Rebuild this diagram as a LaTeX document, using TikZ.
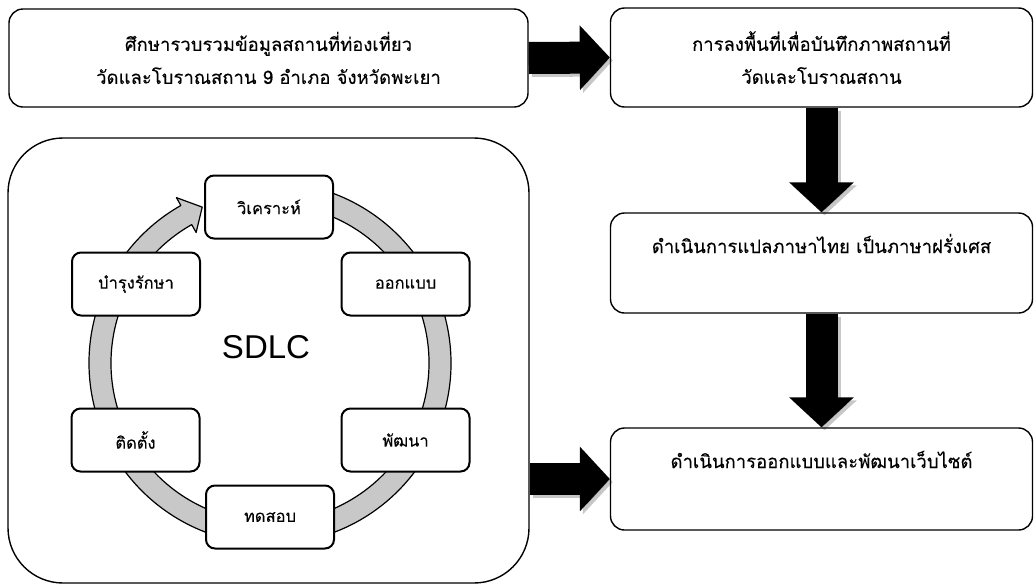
\documentclass[tikz,border=0pt]{standalone}
\usepackage{fontspec}
\setmainfont[Script=Thai, FakeBold=0.2]{Loma}
\newfontfamily\latinsans{Liberation Sans}
\usetikzlibrary{arrows.meta,calc}
\definecolor{ringgray}{RGB}{200,200,200}

\begin{document}
\begin{tikzpicture}[x=1pt,y=1pt,
  stepbox/.style={draw, line width=1.4pt, rounded corners=14pt, fill=white,
    minimum width=422pt, font=\fontsize{18.5}{33}\selectfont},
  phasebox/.style={draw, line width=2pt, rounded corners=9pt, fill=white,
    minimum width=128pt, minimum height=63pt, font=\fontsize{16.5}{20}\selectfont},
  blockarrow/.style={line width=32pt, -{Triangle[length=30pt,width=63pt]}},
  arrowshadow/.style={blockarrow, draw=black, opacity=0.22,
    transform canvas={shift={(3pt,-3pt)}}},
]
\useasboundingbox (0,0) rectangle (1036,-587);

% process steps
\node[stepbox, align=center, minimum width=519pt, minimum height=98pt] (study) at (268.5,-58)
  {ศึกษารวบรวมข้อมูลสถานที่ท่องเที่ยว\\วัดและโบราณสถาน 9 อำเภอ จังหวัดพะเยา};
\node[stepbox, align=center, minimum height=99pt] (survey) at (821.5,-57.5)
  {การลงพื้นที่เพื่อบันทึกภาพสถานที่\\วัดและโบราณสถาน};
\node[stepbox, minimum height=100pt, text height=15pt, text depth=35pt] (translate) at (821.5,-263)
  {ดำเนินการแปลภาษาไทย เป็นภาษาฝรั่งเศส};
\node[stepbox, minimum height=102pt, text height=15pt, text depth=37pt] (website) at (821.5,-479)
  {ดำเนินการออกแบบและพัฒนาเว็บไซต์};

% SDLC frame
\node[draw, line width=1.4pt, rounded corners=55pt, minimum width=521pt, minimum height=445pt]
  (sdlcframe) at (268.5,-360.5) {};

% circular arrow of the life cycle
\coordinate (hub) at (270,-363);
\begin{scope}[shift={(hub)}]
  \filldraw[fill=ringgray, draw=black, line width=1.2pt, line join=round]
    (100:181) arc[start angle=100, end angle=-240.5, radius=181pt]
    -- (-240.5:190) -- (-246.5:170) -- (-240.5:150) -- (-240.5:159)
    arc[start angle=-240.5, end angle=100, radius=159pt] -- cycle;
\end{scope}

\node[font=\latinsans\fontsize{33}{33}\selectfont] (sdlc) at (266,-347) {SDLC};

\node[phasebox] (analysis) at (269,-207)   {วิเคราะห์};
\node[phasebox] (design)   at (405.5,-284) {ออกแบบ};
\node[phasebox] (develop)  at (405.5,-440) {พัฒนา};
\node[phasebox] (testing)  at (270,-517)   {ทดสอบ};
\node[phasebox] (deploy)   at (135.5,-440) {ติดตั้ง};
\node[phasebox] (maintain) at (136,-284)   {บำรุงรักษา};

% block arrows between the steps
\coordinate (frameout) at (sdlcframe.east |- website.west);
\draw[arrowshadow] (study.east) -- (survey.west);
\draw[arrowshadow] (survey.south) -- (translate.north);
\draw[arrowshadow] (translate.south) -- (website.north);
\draw[arrowshadow] (frameout) -- (website.west);
\draw[blockarrow] (study.east) -- (survey.west);
\draw[blockarrow] (survey.south) -- (translate.north);
\draw[blockarrow] (translate.south) -- (website.north);
\draw[blockarrow] (frameout) -- (website.west);
\end{tikzpicture}
\end{document}
